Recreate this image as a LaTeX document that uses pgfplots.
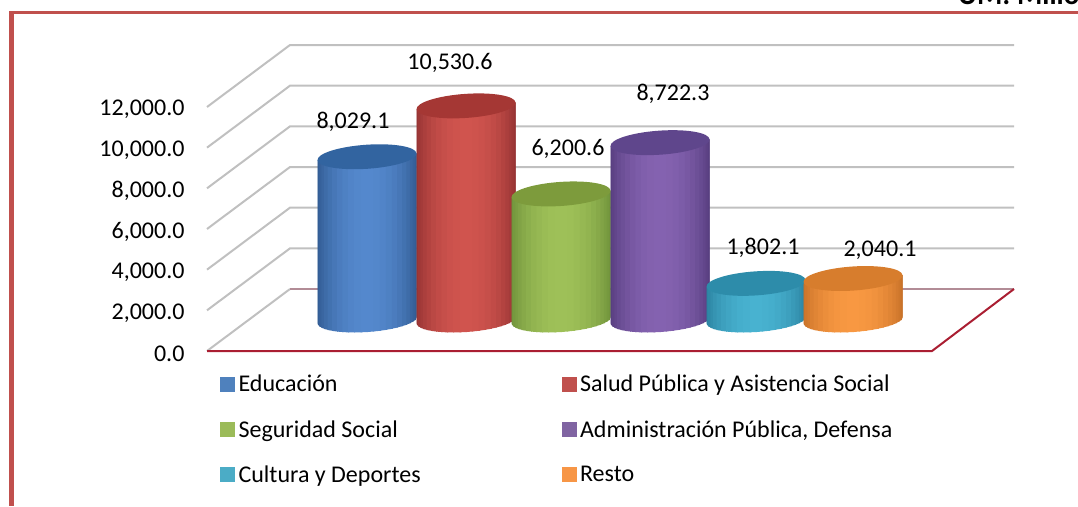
\documentclass[border=0pt]{standalone}
\usepackage{pgfplots}
\pgfplotsset{compat=1.18}
\usepackage{fontspec}
\setmainfont{Carlito}

\definecolor{frame}{RGB}{192,80,77}
\definecolor{wall}{RGB}{192,192,192}
\definecolor{floorback}{RGB}{178,140,150}
\definecolor{floorline}{RGB}{170,30,50}

\definecolor{keyA}{RGB}{79,129,189}
\definecolor{keyB}{RGB}{192,80,77}
\definecolor{keyC}{RGB}{155,187,89}
\definecolor{keyD}{RGB}{128,100,162}
\definecolor{keyE}{RGB}{75,172,198}
\definecolor{keyF}{RGB}{247,150,70}

\definecolor{sideA}{RGB}{48,90,145}   \definecolor{midA}{RGB}{84,136,205}  \definecolor{capA}{RGB}{50,100,160}
\definecolor{sideB}{RGB}{148,50,50}   \definecolor{midB}{RGB}{208,84,78}   \definecolor{capB}{RGB}{165,55,52}
\definecolor{sideC}{RGB}{110,145,58}  \definecolor{midC}{RGB}{158,192,88}  \definecolor{capC}{RGB}{125,155,60}
\definecolor{sideD}{RGB}{85,60,125}   \definecolor{midD}{RGB}{132,98,176}  \definecolor{capD}{RGB}{95,70,140}
\definecolor{sideE}{RGB}{42,128,158}  \definecolor{midE}{RGB}{72,178,208}  \definecolor{capE}{RGB}{45,140,170}
\definecolor{sideF}{RGB}{198,112,40}  \definecolor{midF}{RGB}{248,152,66}  \definecolor{capF}{RGB}{215,125,45}

% legend square plus the gap before its text
\pgfplotsset{sq/.style={legend image code/.code={\fill[#1] (0pt,-7pt) rectangle (14pt,7pt); \path (0pt,0pt) (16pt,0pt);}}}

% cylinder cap, slightly tilted
\pgfdeclareplotmark{cap}{%
  \pgfpathellipse{\pgfpointorigin}{\pgfqpoint{49.5pt}{3.4pt}}{\pgfqpoint{-0.84pt}{12pt}}%
  \pgfusepathqfill}

% #1 x centre, #2 value, #3 colour letter
% the side is built from narrow vertical strips, light in the middle
\newcommand{\cylinder}[3]{%
  \pgfplotsforeachungrouped \i in {0,...,23}{%
    \pgfmathsetmacro{\ua}{-cos(7.5*\i)}%
    \pgfmathsetmacro{\ub}{-cos(7.5*(\i+1))}%
    \pgfmathsetmacro{\xa}{#1+49.5*\ua}%
    \pgfmathsetmacro{\xb}{min(#1+49.5,#1+49.5*\ub+1)}%
    \pgfmathsetmacro{\ba}{167*\ua-590*sin(7.5*\i)}%
    \pgfmathsetmacro{\bb}{167*\ub-590*sin(7.5*(\i+1))}%
    \pgfmathsetmacro{\ta}{#2+167*\ua}%
    \pgfmathsetmacro{\tb}{#2+167*\ub}%
    \pgfmathsetmacro{\mx}{100*sin(7.5*(\i+0.5))^1.6}%
    \edef\strip{\noexpand\addplot[fill=mid#3!\mx!side#3, draw=none, forget plot]
      coordinates {(\xa,\ba) (\xa,\ta) (\xb,\tb) (\xb,\bb)};}%
    \strip
  }%
  \addplot[only marks, mark=cap, mark options={fill=cap#3}] coordinates {(#1,#2)};
}

\begin{document}
\begin{tikzpicture}
\path[use as bounding box] (0pt,0pt) rectangle (1078pt,506pt);
\fill[frame] (9pt,0pt) rectangle (14pt,495pt);
\fill[frame] (9pt,492pt) rectangle (1078pt,495pt);
\node[anchor=base west, inner sep=0pt, font=\fontsize{29}{34}\selectfont\bfseries] at (958pt,501pt) {UM: Millones};

% walls, ticks and legend
\begin{axis}[
  at={(207pt,155pt)}, anchor=south west,
  scale only axis, width=807pt, height=244pt,
  xmin=207, xmax=1014, ymin=0, ymax=12000,
  clip=false,
  axis line style={draw=none},
  xtick=\empty,
  ytick={0,2000,...,12000},
  scaled y ticks=false,
  tick style={draw=none},
  /pgf/number format/fixed,
  /pgf/number format/fixed zerofill,
  /pgf/number format/precision=1,
  /pgf/number format/1000 sep={,},
  /pgf/number format/assume math mode=true,
  y tick label style={font=\fontsize{24}{28}\selectfont, xshift=-19pt, yshift=-2.5pt},
  legend style={at={(13pt,-22pt)}, anchor=north west, draw=none, fill=none,
    font=\fontsize{24}{28}\selectfont, legend columns=2, legend cell align=left,
    row sep=23pt, /tikz/every even column/.append style={column sep=139pt},
    inner sep=0pt},
]
\addlegendimage{sq=keyA}\addlegendentry{Educación}
\addlegendimage{sq=keyB}\addlegendentry{Salud Pública y Asistencia Social}
\addlegendimage{sq=keyC}\addlegendentry{Seguridad Social}
\addlegendimage{sq=keyD}\addlegendentry{Administración Pública, Defensa}
\addlegendimage{sq=keyE}\addlegendentry{Cultura y Deportes}
\addlegendimage{sq=keyF}\addlegendentry{Resto}

\pgfplotsinvokeforeach{2000,4000,...,12000}{
  \addplot[wall, line width=2pt, forget plot] coordinates {(207,#1) (290,#1+3049) (1014,#1+3049)};
}
\addplot[wall, line width=2pt, forget plot] coordinates {(207,0) (290,3049)};
\addplot[floorback, line width=2pt, forget plot] coordinates {(290,3049) (1014,3049)};
\addplot[floorline, line width=2pt, forget plot] coordinates {(207,0) (932,0) (1014,3049)};
\end{axis}

% cylinders
\begin{axis}[
  at={(207pt,155pt)}, anchor=south west,
  scale only axis, width=807pt, height=244pt,
  xmin=207, xmax=1014, ymin=-1524, ymax=10476,
  clip=false, hide axis,
]
\cylinder{367}{8029.1}{A}
\cylinder{466}{10530.6}{B}
\cylinder{561}{6200.6}{C}
\cylinder{660}{8722.3}{D}
\cylinder{756}{1802.1}{E}
\cylinder{853}{2040.1}{F}

\node[font=\fontsize{24}{28}\selectfont] at (axis cs:353,8029.1) [yshift=35pt] {8,029.1};
\node[font=\fontsize{24}{28}\selectfont] at (axis cs:450,10530.6) [yshift=43pt] {10,530.6};
\node[font=\fontsize{24}{28}\selectfont] at (axis cs:568,6200.6) [yshift=45pt] {6,200.6};
\node[font=\fontsize{24}{28}\selectfont] at (axis cs:673,8722.3) [yshift=48.5pt] {8,722.3};
\node[font=\fontsize{24}{28}\selectfont] at (axis cs:763,1802.1) [yshift=36pt] {1,802.1};
\node[font=\fontsize{24}{28}\selectfont] at (axis cs:880,2040.1) [yshift=28.5pt] {2,040.1};
\end{axis}
\end{tikzpicture}
\end{document}
